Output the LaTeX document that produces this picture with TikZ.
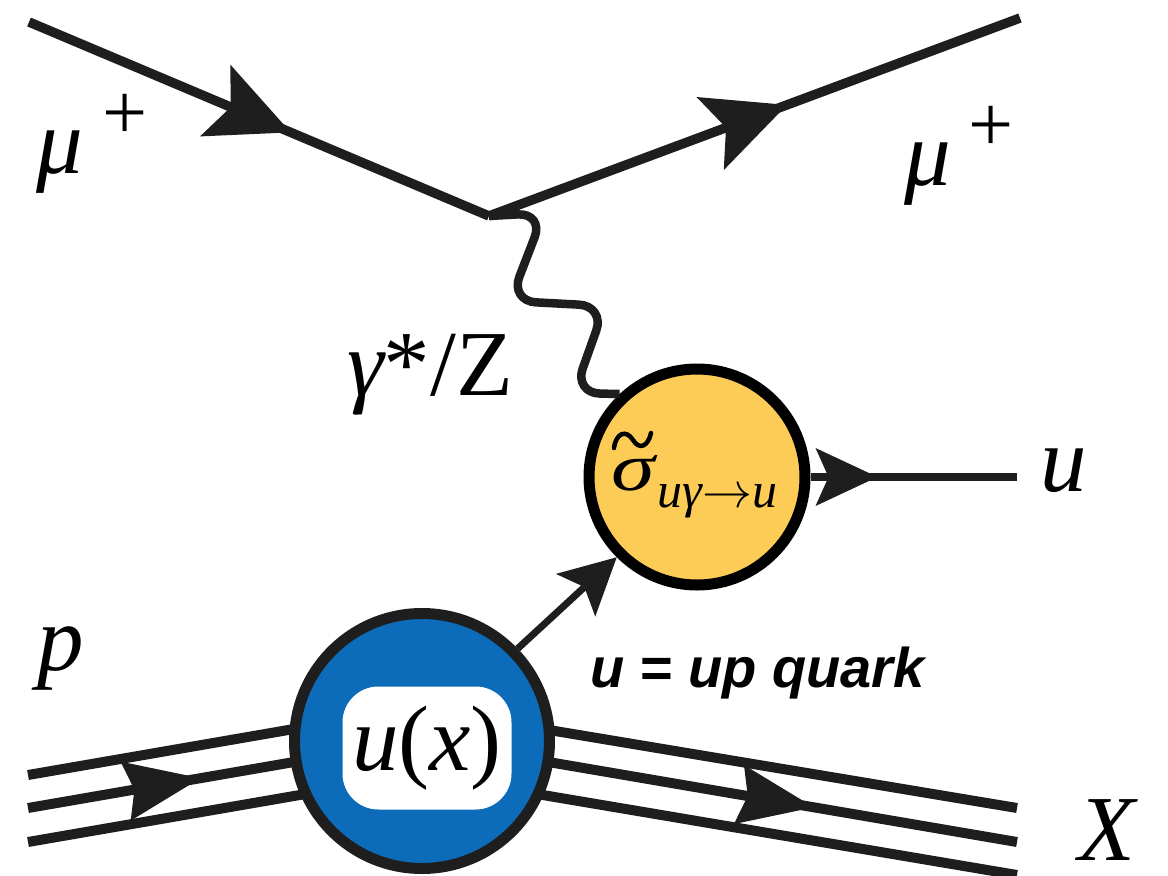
\RequirePackage{fix-cm}
\documentclass[tikz,border=0pt]{standalone}
\usepackage{amsmath}
\usepackage{graphicx}
\usepackage{fontspec}
\setmainfont{Liberation Serif}
\newfontfamily\labsans{Liberation Sans}
\usetikzlibrary{arrows.meta,decorations.markings}
\definecolor{ink}{RGB}{30,30,30}
\definecolor{ublue}{RGB}{12,108,186}
\definecolor{uyellow}{RGB}{253,204,87}
\tikzset{
  tipA/.tip={Stealth[length=82pt,width=78pt,inset=17pt,line width=0pt]},
  tipB/.tip={Stealth[length=62pt,width=58pt,inset=13pt,line width=0pt]},
  tipC/.tip={Stealth[length=56pt,width=58pt,inset=12pt,line width=0pt]},
  tipD/.tip={Stealth[length=76pt,width=60pt,inset=9pt,line width=0pt]},
  fermion/.style={draw=ink, line width=9.5pt},
  hadron/.style={draw=ink, line width=10pt},
  wave/.style={draw=ink, line width=8.5pt, rounded corners=26pt},
  marked/.style 2 args={postaction={decorate},
    decoration={markings, mark=at position #2 with {\arrow{#1}}}},
  lab/.style={font=\fontsize{93pt}{100pt}\selectfont, inner sep=0pt, text=black},
  bcirc/.style={circle, draw=ink, line width=11pt, fill=ublue, minimum size=255pt, inner sep=0pt},
  ycirc/.style={circle, draw=black, line width=11pt, fill=uyellow, minimum size=216pt, inner sep=0pt},
  wbox/.style={fill=white, rounded corners=36pt, minimum width=169pt, minimum height=123pt, inner sep=0pt,
    font=\fontsize{93pt}{100pt}\selectfont},
  accent/.style={draw=black, line width=4.5pt, line cap=round}
}
\begin{document}
\begin{tikzpicture}[x=1pt,y=-1pt]
\useasboundingbox (0,0) rectangle (1168,876);
% coordinates
\coordinate (mu1) at (29,22);
\coordinate (v) at (489,216);
\coordinate (mu2) at (1020,18);
\coordinate (pl1) at (28,775); \coordinate (pl1e) at (320,724.5);
\coordinate (pl2) at (28,808); \coordinate (pl2e) at (320,757.5);
\coordinate (pl3) at (28,842); \coordinate (pl3e) at (320,791.5);
\coordinate (xr1s) at (525,726); \coordinate (xr1) at (1017,808);
\coordinate (xr2s) at (525,758); \coordinate (xr2) at (1017,842);
\coordinate (xr3s) at (525,792); \coordinate (xr3) at (1017,875);
\coordinate (uend) at (1017,477);
% muon lines
\draw[fermion, marked={tipA}{284pt}] (mu1) -- (v);
\draw[fermion, marked={tipA}{318pt}] (v) -- (mu2);
% proton lines
\draw[hadron] (pl1) -- (pl1e);
\draw[hadron, marked={tipD}{175pt}] (pl2) -- (pl2e);
\draw[hadron] (pl3) -- (pl3e);
% remnant lines
\draw[hadron] (xr1s) -- (xr1);
\draw[hadron, marked={tipD}{293pt}] (xr2s) -- (xr2);
\draw[hadron] (xr3s) -- (xr3);
% blobs
\node[bcirc] (bc) at (422,741) {};
\node[wbox] (ux) at (427,748) {{\itshape u}({\itshape x})};
\node[ycirc] (yc) at (697,477) {};
\node[inner sep=0pt, anchor=base west, font=\fontsize{68pt}{70pt}\selectfont] (sig) at (611,490)
  {\scalebox{1.3}[1]{\itshape σ}\kern3pt\raisebox{-17pt}{\fontsize{50pt}{52pt}\selectfont{\itshape uγ}$\to${\itshape u}}};
\draw[accent] (614,448) .. controls (616,433) and (626,429) .. (633,440)
  .. controls (639,450) and (648,447) .. (651,433);
% connectors
\draw[fermion, line width=8pt, marked={tipB}{67pt}] (yc.east) -- (uend);
\draw[draw=ink, line width=7pt, -{tipC}] (bc.44) -- (yc.225);
\draw[wave] (v) -- (544,213) -- (510,301) -- (605,306) -- (574,393) -- (yc.133);
% labels
\node[lab, anchor=base west] (lmu1) at (36,173) {{\itshape μ}\kern20pt\raisebox{34pt}{\fontsize{80pt}{80pt}\selectfont +}};
\node[lab, anchor=base west] (lmu2) at (904,185) {{\itshape μ}\kern18pt\raisebox{34pt}{\fontsize{80pt}{80pt}\selectfont +}};
\node[lab, anchor=base east] (lgz) at (513,395) {{\itshape γ}*/Z};
\node[lab, anchor=base west] (lu) at (1040,491) {\itshape u};
\node[lab, anchor=base west] (lp) at (37,670) {\itshape p};
\node[lab, anchor=base west] (lx) at (1078,860) {\itshape X};
\node[inner sep=0pt, anchor=base west, font=\labsans\bfseries\itshape\fontsize{56pt}{60pt}\selectfont] (note) at (590,687) {u = up quark};
\end{tikzpicture}
\end{document}
